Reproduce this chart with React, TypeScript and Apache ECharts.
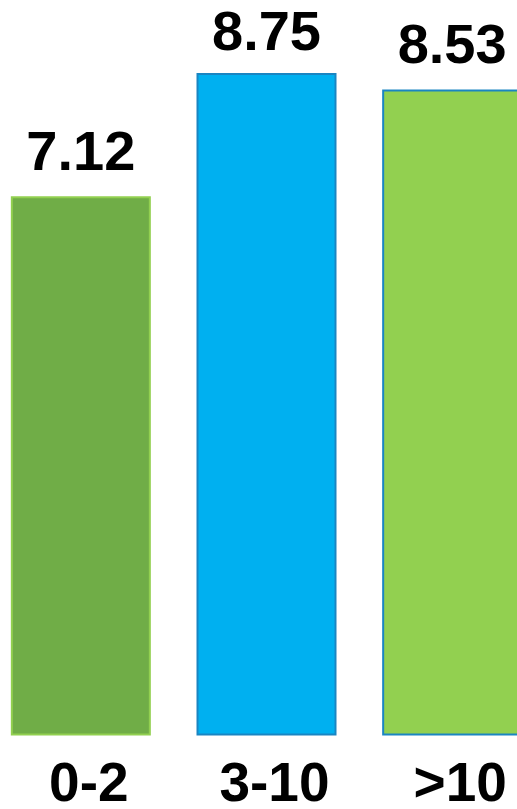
import React, { useEffect, useRef } from "react";
import * as echarts from "echarts";

const categories = ["0-2", "3-10", ">10"];
const values = [7.12, 8.75, 8.53];
const fillColors = ["#70AD47", "#00B0F0", "#92D050"];
const borderColors = ["#92D050", "#1A85C2", "#1A85C2"];
const labelDistances = [18, 14, 18];

export default function App() {
  const ref = useRef<HTMLDivElement>(null);
  useEffect(() => {
    if (!ref.current) return;
    const chart = echarts.init(ref.current, null, { renderer: "svg" });
    const font = "'Liberation Sans', Arial, sans-serif";
    chart.setOption({
      animation: false,
      backgroundColor: "#ffffff",
      grid: { left: 0, right: 0, top: 1, bottom: 73, containLabel: false },
      xAxis: {
        type: "category",
        data: categories,
        axisLine: { show: false },
        axisTick: { show: false },
        axisLabel: {
          color: "#000",
          fontSize: 55,
          lineHeight: 44,
          fontWeight: "bold",
          fontFamily: font,
          margin: 24,
          padding: [0, 0, 0, 16],
        },
      },
      yAxis: {
        type: "value",
        min: 0,
        max: 9.7,
        show: false,
        splitLine: { show: false },
      },
      series: [
        {
          type: "bar",
          barWidth: 140,
          data: values.map((v, i) => ({
            value: v,
            itemStyle: {
              color: fillColors[i],
              borderColor: borderColors[i],
              borderWidth: 2,
            },
            label: { distance: labelDistances[i] },
          })),
          label: {
            show: true,
            position: "top",
            color: "#000",
            fontSize: 56,
            fontWeight: "bold",
            fontFamily: font,
            formatter: (p: any) => p.value.toFixed(2),
          },
        },
      ],
    });
    return () => chart.dispose();
  }, []);
  return (
    <div style={{ position: "fixed", left: 0, top: 0, width: 517, height: 809, overflow: "hidden", background: "#fff" }}>
      <div
        ref={ref}
        style={{ position: "absolute", left: -12, top: 0, width: 557, height: 809 }}
      />
    </div>
  );
}
